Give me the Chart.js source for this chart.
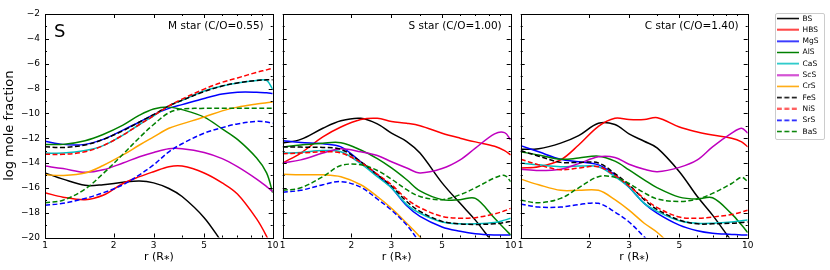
<!DOCTYPE html>
<html lang="en">
<head>
<meta charset="UTF-8">
<title>Sulfides in AGB winds</title>
<script src="https://cdn.jsdelivr.net/npm/chart.js"></script>
<style>
    body {
        margin: 0;
        background: #fff;
        width: 830px;
        height: 270px;
        overflow: hidden;
        position: relative;
        font-family: 'DejaVu Sans', sans-serif;
    }
    canvas { position: absolute; top: 0; }
    #legendBox {
        position: absolute;
        left: 775px;
        top: 13px;
        width: 48px;
        height: 125px;
        border: 1px solid #ccc;
        border-radius: 2px;
    }
</style>
</head>
<body>
<div id="legendBox"></div>
<canvas id="p1" width="290" height="270" style="left:0px"></canvas>
<canvas id="p2" width="255" height="270" style="left:270px"></canvas>
<canvas id="p3" width="255" height="270" style="left:505px"></canvas>
<canvas id="leg" width="56" height="140" style="left:773px; top:11px"></canvas>
<script>
// radius grid (R*) shared by every curve
const R = [1, 1.2, 1.5, 1.8, 2.2, 2.6, 3, 3.5, 4, 5, 6, 7, 8.5, 9.4, 10];
const SPECIES = ['BS', 'HBS', 'MgS', 'AlS', 'CaS', 'ScS', 'CrS', 'FeS', 'NiS', 'SrS', 'BaS'];
const X_TICKS = [1, 2, 3, 4, 5, 6, 7, 8, 9, 10];
const X_LABELED = [1, 2, 3, 5, 10];

// log mole fraction, one row per species (same order as SPECIES)
const mStar = [
    [-14.8, -15.3, -15.8, -15.75, -15.55, -15.45, -15.6, -16.05, -16.7, -18.4, -20.4, -22, -25, -26, -27],
    [-16.4, -16.75, -16.95, -16.6, -15.65, -15.1, -14.7, -14.3, -14.25, -14.8, -15.6, -16.5, -18.5, -19.9, -21],
    [-12.25, -12.5, -12.5, -12.1, -11.35, -10.7, -10.1, -9.6, -9.3, -8.8, -8.45, -8.3, -8.3, -8.35, -8.4],
    [-12.5, -12.5, -12.2, -11.7, -10.95, -10.15, -9.65, -9.5, -9.7, -10.3, -11.25, -12.1, -13.6, -14.8, -16.4],
    [-13.2, -13.2, -13.0, -12.6, -11.75, -10.9, -10.2, -9.4, -8.95, -8.2, -7.8, -7.55, -7.35, -7.35, -8.05],
    [-14.25, -14.45, -14.75, -14.55, -14.0, -13.5, -13.15, -12.85, -12.85, -13.15, -13.65, -14.3, -15.3, -15.9, -16.3],
    [-14.95, -15.0, -14.8, -14.2, -13.35, -12.55, -11.9, -11.2, -10.85, -10.3, -9.8, -9.5, -9.25, -9.15, -9.1],
    [-12.7, -12.75, -12.55, -12.1, -11.4, -10.7, -10.1, -9.4, -8.95, -8.25, -7.8, -7.55, -7.35, -7.3, -7.3],
    [-13.3, -13.3, -13.1, -12.6, -11.75, -10.9, -10.2, -9.4, -8.85, -8.05, -7.5, -7.15, -6.7, -6.5, -6.37],
    [-17.4, -17.25, -16.85, -16.4, -15.75, -14.95, -14.15, -13.1, -12.45, -11.6, -11.15, -10.85, -10.65, -10.7, -10.8],
    [-17.2, -17.0, -16.1, -14.85, -13.3, -11.95, -10.9, -9.95, -9.65, -9.6, -9.6, -9.6, -9.6, -9.6, -9.6]
];
const sStar = [
    [-12.4, -12.1, -11.2, -10.6, -10.4, -10.85, -11.6, -12.27, -13.2, -15.6, -17.25, -18.6, -20.6, -21.5, -22],
    [-14.0, -13.2, -11.9, -11.1, -10.5, -10.4, -10.65, -10.8, -11.0, -11.6, -12.0, -12.3, -12.65, -13.0, -13.35],
    [-12.2, -12.35, -12.45, -12.7, -13.9, -14.95, -16.0, -17.45, -18.3, -19.15, -19.5, -19.7, -19.8, -19.8, -19.8],
    [-12.7, -12.55, -12.4, -12.37, -12.95, -13.65, -14.4, -15.35, -16.25, -16.95, -16.95, -16.85, -18.45, -19.3, -19.8],
    [-13.2, -13.15, -13.0, -13.1, -14.05, -15.1, -16.0, -17.35, -18.05, -18.75, -18.9, -18.9, -18.8, -18.6, -18.45],
    [-14.0, -13.75, -13.2, -12.85, -13.1, -13.4, -13.9, -14.4, -14.8, -14.45, -13.75, -12.8, -11.65, -11.55, -12.15],
    [-14.9, -14.95, -14.95, -15.1, -15.75, -16.7, -17.65, -18.85, -19.95, -22, -24, -25, -26, -27, -28],
    [-12.7, -12.72, -12.75, -12.9, -13.9, -14.95, -15.85, -17.1, -17.9, -18.7, -18.9, -18.95, -18.9, -18.8, -18.7],
    [-13.25, -13.2, -13.1, -13.2, -13.95, -14.9, -15.75, -16.9, -17.6, -18.3, -18.45, -18.4, -18.1, -17.85, -17.65],
    [-16.35, -16.2, -15.75, -15.5, -15.95, -16.9, -17.8, -19.0, -20.4, -22.5, -24, -25, -26, -26.5, -27],
    [-16.2, -16.0, -15.1, -14.2, -14.15, -14.6, -15.3, -16.15, -16.7, -16.95, -16.55, -16.0, -15.2, -15.0, -15.5]
];
const cStar = [
    [-12.9, -12.85, -12.4, -11.8, -10.8, -10.9, -11.65, -12.25, -12.8, -14.7, -16.7, -18.2, -20.3, -21.3, -22],
    [-14.4, -14.3, -13.75, -12.55, -11.05, -10.4, -10.5, -10.5, -10.35, -11.1, -11.5, -11.75, -12.0, -12.3, -12.7],
    [-12.6, -13.1, -13.7, -13.9, -14.15, -14.95, -15.95, -17.25, -18.05, -19.0, -19.45, -19.65, -19.75, -19.8, -19.8],
    [-13.1, -13.35, -13.7, -13.6, -13.45, -13.85, -14.55, -15.35, -16.0, -16.75, -16.9, -16.8, -18.1, -19.0, -19.6],
    [-14.0, -14.15, -14.3, -14.25, -14.3, -15.1, -15.95, -17.25, -17.9, -18.65, -18.85, -18.85, -18.75, -18.65, -18.6],
    [-14.5, -14.6, -14.5, -14.05, -13.5, -13.55, -14.1, -14.5, -14.7, -14.35, -13.75, -12.7, -11.6, -11.2, -11.6],
    [-15.3, -15.75, -16.2, -16.2, -16.2, -16.95, -17.8, -18.85, -19.6, -21.3, -23, -24, -25, -25.5, -26],
    [-13.0, -13.45, -13.95, -13.95, -14.0, -14.85, -15.75, -16.95, -17.75, -18.6, -18.9, -18.9, -18.85, -18.8, -18.75],
    [-13.7, -14.15, -14.55, -14.4, -14.3, -15.0, -15.85, -16.85, -17.6, -18.35, -18.45, -18.35, -18.15, -17.95, -17.8],
    [-17.3, -17.55, -17.55, -17.35, -17.25, -17.95, -18.75, -19.95, -21, -23, -24, -25, -26, -26.5, -27],
    [-17.0, -17.2, -16.85, -16.0, -15.1, -15.15, -15.65, -16.4, -16.9, -17.1, -16.9, -16.45, -15.65, -15.15, -15.5]
];

// line styles, matplotlib colours
const COLORS = ['#000000', '#ff0000', '#0000ff', '#008000', '#00bfbf', '#bf00bf', '#ffa500',
                '#000000', '#ff0000', '#0000ff', '#008000'];
const DASHED = [false, false, false, false, false, false, false, true, true, true, true];
const DASH = [5, 2.5];

const FONT = "'DejaVu Sans', sans-serif";
const minus = s => String(s).replace('-', '\u2212');

function makeDatasets(rows) {
    return SPECIES.map((name, i) => ({
        label: name,
        data: rows ? R.map((r, j) => ({x: r, y: rows[i][j]})) : [],
        borderColor: COLORS[i],
        backgroundColor: COLORS[i],
        borderWidth: 1.5,
        borderDash: DASHED[i] ? DASH : [],
        pointRadius: 0,
        tension: 0.35,
        fill: false
    }));
}

// small line sample used as legend point style (keeps the dash visible)
function lineSample(color, dashed) {
    const c = document.createElement('canvas');
    c.width = 22;
    c.height = 3;
    const g = c.getContext('2d');
    g.strokeStyle = color;
    g.lineWidth = 1.5;
    g.setLineDash(dashed ? DASH : []);
    g.beginPath();
    g.moveTo(0, 1.5);
    g.lineTo(22, 1.5);
    g.stroke();
    return c;
}

// frame with inward ticks on all four sides, x tick labels, panel annotations
const framePlugin = {
    id: 'frame',
    afterDraw(chart, args, opts) {
        const {ctx, chartArea: a, scales: {x, y}} = chart;
        ctx.save();
        ctx.strokeStyle = '#000';
        ctx.lineWidth = 1;
        ctx.beginPath();
        for (let v = -20; v <= -2; v++) {
            const py = Math.round(y.getPixelForValue(v)) + 0.5;
            const len = v % 2 === 0 ? 4 : 2;
            ctx.moveTo(a.left, py); ctx.lineTo(a.left + len, py);
            ctx.moveTo(a.right, py); ctx.lineTo(a.right - len, py);
        }
        X_TICKS.forEach(v => {
            const px = Math.round(x.getPixelForValue(v)) + 0.5;
            const len = X_LABELED.includes(v) ? 4 : 2;
            ctx.moveTo(px, a.bottom); ctx.lineTo(px, a.bottom - len);
            ctx.moveTo(px, a.top); ctx.lineTo(px, a.top + len);
        });
        ctx.stroke();
        ctx.strokeRect(Math.round(a.left) + 0.5, Math.round(a.top) + 0.5,
                       Math.round(a.right - a.left), Math.round(a.bottom - a.top));
        ctx.fillStyle = '#000';
        ctx.font = '9px ' + FONT;
        ctx.textAlign = 'center';
        ctx.textBaseline = 'top';
        X_LABELED.forEach(v => ctx.fillText(String(v), x.getPixelForValue(v), a.bottom + 3.5));
        ctx.textBaseline = 'middle';
        ctx.textAlign = 'right';
        ctx.font = '10.5px ' + FONT;
        ctx.fillText(opts.label, a.right - 9, a.top + 12.5);
        if (opts.tag) {
            ctx.textAlign = 'left';
            ctx.font = '18px ' + FONT;
            ctx.fillText(opts.tag, a.left + 9, a.top + 18);
        }
        ctx.restore();
    }
};

function makePanel(id, rows, yWidth, rightPad, showY, label, tag) {
    const datasets = makeDatasets(rows).reverse(); // last species drawn on top
    return new Chart(document.getElementById(id), {
        type: 'line',
        data: {datasets},
        plugins: [framePlugin],
        options: {
            responsive: false,
            animation: false,
            devicePixelRatio: 1,
            layout: {padding: {top: 14, right: rightPad, left: 0, bottom: 0}},
            plugins: {
                legend: {display: false},
                tooltip: {enabled: false},
                frame: {label, tag}
            },
            scales: {
                x: {
                    type: 'logarithmic',
                    min: 1,
                    max: 10,
                    afterFit: s => { s.height = 32.5; },
                    grid: {display: false, drawTicks: false},
                    border: {display: false},
                    ticks: {display: false},
                    title: {
                        display: true,
                        text: 'r (R\u204E)',
                        color: '#000',
                        font: {family: FONT, size: 11},
                        padding: {top: 0, bottom: 6}
                    }
                },
                y: {
                    type: 'linear',
                    min: -20,
                    max: -2,
                    afterFit: s => { s.width = yWidth; },
                    grid: {display: false, drawTicks: false},
                    border: {display: false},
                    ticks: {
                        display: showY,
                        stepSize: 2,
                        padding: 5,
                        color: '#000',
                        font: {family: FONT, size: 9},
                        callback: v => minus(v)
                    },
                    title: {
                        display: showY,
                        text: 'log mole fraction',
                        color: '#000',
                        font: {family: FONT, size: 13},
                        padding: {top: 2, bottom: 0}
                    }
                }
            }
        }
    });
}

makePanel('p1', mStar, 45, 17.3, true, 'M star (C/O=0.55)', 'S');
makePanel('p2', sStar, 12.7, 14.3, false, 'S star (C/O=1.00)', null);
makePanel('p3', cStar, 15.7, 12.3, false, 'C star (C/O=1.40)', null);

// legend drawn by Chart.js in its own small canvas
const SAMPLES = SPECIES.map((s, i) => lineSample(COLORS[i], DASHED[i]));
new Chart(document.getElementById('leg'), {
    type: 'line',
    data: {datasets: makeDatasets(null)},
    options: {
        responsive: false,
        animation: false,
        devicePixelRatio: 1,
        layout: {padding: 0},
        scales: {x: {display: false}, y: {display: false}},
        plugins: {
            tooltip: {enabled: false},
            legend: {
                display: true,
                position: 'top',
                align: 'start',
                maxHeight: 140,
                labels: {
                    usePointStyle: true,
                    pointStyleWidth: 22,
                    padding: 3.8,
                    color: '#000',
                    font: {family: FONT, size: 7.5},
                    generateLabels: chart => Chart.defaults.plugins.legend.labels.generateLabels(chart)
                        .map((item, i) => Object.assign(item, {pointStyle: SAMPLES[i]}))
                }
            }
        }
    }
});
</script>
</body>
</html>
